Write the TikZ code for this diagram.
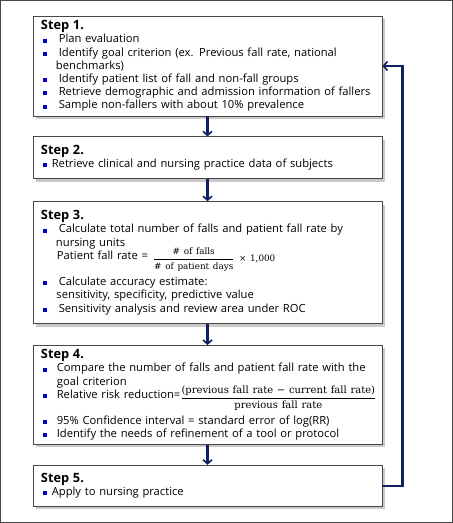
\documentclass[tikz,border=0pt]{standalone}
\usepackage{fontspec}
\setmainfont{Open Sans}
\newfontfamily\eqfont{DejaVu Serif}
\usetikzlibrary{arrows.meta,positioning,shadows}
\definecolor{flowNavy}{RGB}{16,32,96}
\definecolor{flowBlue}{RGB}{0,0,204}
\definecolor{flowEdge}{RGB}{70,70,70}
\newcommand{\blt}[1][5bp]{\hspace*{1.8bp}\textcolor{flowBlue}{\rule[0.3bp]{4bp}{4bp}}\hspace*{#1}}
\newcommand{\cnt}[1][15bp]{\hspace*{#1}}
\newcommand{\stephead}[1]{{\fontsize{12.8bp}{13.2bp}\selectfont\bfseries #1}}
\newcommand{\eqsmall}{\eqfont\fontsize{8.8bp}{10bp}\selectfont}
\newcommand{\eqbig}{\eqfont\fontsize{10bp}{11bp}\selectfont}

\begin{document}
\begin{tikzpicture}[x=1bp, y=-1bp,
  stepbox/.style={draw=flowEdge, fill=white, line width=0.8bp,
                  minimum width=349bp, text width=333bp, inner xsep=8bp,
                  inner ysep=0pt, align=left,
                  font=\fontsize{11.2bp}{13.2bp}\selectfont,
                  drop shadow={fill=gray!70, opacity=0.6,
                               shadow xshift=3bp, shadow yshift=-3bp}},
  arr/.style={-{Straight Barb[length=4bp, width=9bp, line width=1.6bp]},
              line width=2.2bp, flowNavy}
]
  \useasboundingbox (0,0) rectangle (453,523);
  \draw[flowEdge, line width=1.2bp] (0.6,0.6) rectangle (452.4,522.4);

  \node[stepbox, minimum height=100bp] (s1) at (207.5,66) {%
    \stephead{Step 1.}\\
    \blt[12bp]Plan evaluation\\
    \blt[12bp]Identify goal criterion (ex. Previous fall rate, national\\
    \cnt benchmarks)\\
    \blt[12bp]Identify patient list of fall and non-fall groups\\
    \blt[12bp]Retrieve demographic and admission information of fallers\\
    \blt[12bp]Sample non-fallers with about 10\% prevalence};

  \node[stepbox, minimum height=42bp, below=20bp of s1] (s2) {%
    \stephead{Step 2.}\\
    \blt Retrieve clinical and nursing practice data of subjects};

  \node[stepbox, minimum height=122bp, below=22bp of s2] (s3) {%
    \stephead{Step 3.}\\
    \blt[12bp]Calculate total number of falls and patient fall rate by\\
    \cnt nursing units\\
    \cnt[16bp]Patient fall rate =\hspace{5bp}\rlap{\smash{\raisebox{-2.5bp}{%
      $\displaystyle\frac{\hbox{\eqsmall \# of falls}}{\hbox{\eqsmall \# of patient days}}$%
      \hspace{4.5bp}{\eqsmall × 1,000}}}}\\[13.1bp]
    \blt[12bp]Calculate accuracy estimate:\\
    \cnt[15.5bp]sensitivity, specificity, predictive value\\
    \blt[12bp]Sensitivity analysis and review area under ROC};

  \node[stepbox, minimum height=99bp, below=21bp of s3] (s4) {%
    \stephead{Step 4.}\\
    \blt[10bp]Compare the number of falls and patient fall rate with the\\
    \cnt[16bp]goal criterion\\
    \blt[10bp]Relative risk reduction=\rlap{\smash{\raisebox{-2.5bp}{%
      $\displaystyle\frac{\hbox{\eqbig (previous fall rate − current fall rate)}}{\hbox{\eqbig previous fall rate}}$}}}\\[13.1bp]
    \blt[10bp]95\% Confidence interval = standard error of log(RR)\\
    \blt[10bp]Identify the needs of refinement of a tool or protocol};

  \node[stepbox, minimum height=41bp, below=20bp of s4] (s5) {%
    \stephead{Step 5.}\\
    \blt Apply to nursing practice};

  \draw[arr] (s1.south) -- (s2.north);
  \draw[arr] (s2.south) -- (s3.north);
  \draw[arr] (s3.south) -- (s4.north);
  \draw[arr] (s4.south) -- (s5.north);
  \draw[arr] (s5.east) -- ++(20,0) |- (s1.east);
\end{tikzpicture}
\end{document}
